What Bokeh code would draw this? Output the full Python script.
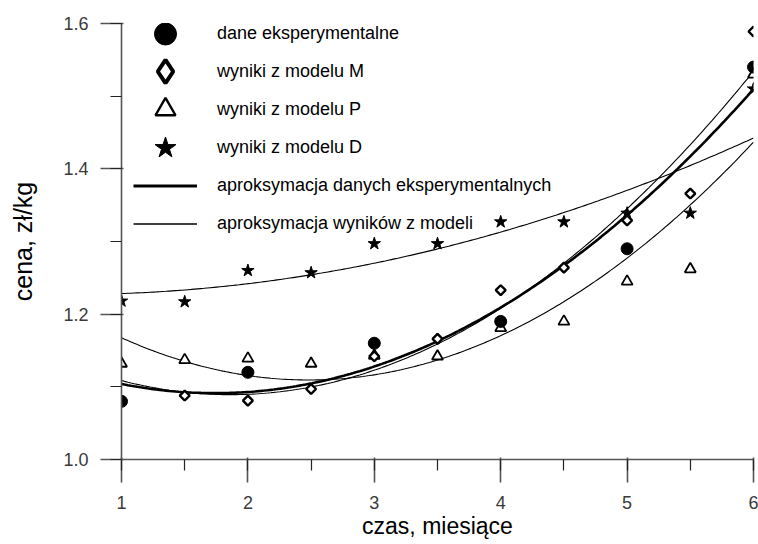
import numpy as np
from bokeh.plotting import figure
from bokeh.models import (Range1d, SingleIntervalTicker, PrintfTickFormatter,
                          Legend, LegendItem)
from bokeh.embed import file_html
from bokeh.resources import INLINE

# ---- data ----
x_exp = [1, 2, 3, 4, 5, 6]
y_exp = [1.08, 1.12, 1.16, 1.19, 1.29, 1.54]

x_m = [1.5, 2, 2.5, 3, 3.5, 4, 4.5, 5, 5.5, 6]
y_m = [1.088, 1.081, 1.097, 1.142, 1.166, 1.233, 1.264, 1.329, 1.366, 1.589]

x_pd = [1, 1.5, 2, 2.5, 3, 3.5, 4, 4.5, 5, 5.5, 6]
y_p = [1.132, 1.137, 1.139, 1.132, 1.143, 1.142, 1.181, 1.19, 1.245, 1.262, 1.53]
y_d = [1.218, 1.217, 1.26, 1.257, 1.297, 1.297, 1.327, 1.327, 1.339, 1.339, 1.51]

labels = ["dane eksperymentalne", "wyniki z modelu M", "wyniki z modelu P",
          "wyniki z modelu D", "aproksymacja danych eksperymentalnych",
          "aproksymacja wyników z modeli"]

x_title = "czas, miesiące"
y_title = "cena, zł/kg"

# quadratic approximations (least squares) of each series
xs = np.linspace(1, 6, 200)
fit_exp = np.polyval(np.polyfit(x_exp, y_exp, 2), xs)
fit_m = np.polyval(np.polyfit(x_m, y_m, 2), xs)
fit_p = np.polyval(np.polyfit(x_pd, y_p, 2), xs)
fit_d = np.polyval(np.polyfit(x_pd, y_d, 2), xs)

p = figure(width=758, height=544, output_backend="svg", toolbar_location=None,
           x_range=Range1d(1, 6), y_range=Range1d(1.0, 1.6),
           min_border_left=121, min_border_right=5, min_border_top=23,
           min_border_bottom=85)
p.outline_line_color = None
p.xgrid.visible = False
p.ygrid.visible = False
p.background_fill_color = "white"
p.border_fill_color = "white"

xa = p.xaxis[0]
ya = p.yaxis[0]
xa.ticker = SingleIntervalTicker(interval=1, num_minor_ticks=2)
ya.ticker = SingleIntervalTicker(interval=0.2, num_minor_ticks=2)
xa.formatter = PrintfTickFormatter(format="%d")
ya.formatter = PrintfTickFormatter(format="%.1f")
for ax in (xa, ya):
    ax.axis_line_color = "#555555"
    ax.axis_line_width = 1.6
    ax.major_tick_line_color = "#555555"
    ax.major_tick_line_width = 1.6
    ax.minor_tick_line_color = "#222222"
    ax.minor_tick_line_width = 1.2
    ax.major_label_text_font = "Liberation Sans"
    ax.major_label_text_font_size = "18px"
    ax.major_label_text_color = "#3a3a3a"
    ax.axis_label_text_font = "Liberation Sans"
    ax.axis_label_text_font_style = "normal"
    ax.axis_label_text_color = "black"
xa.major_tick_out = 23
xa.minor_tick_out = 11
ya.major_tick_out = 21
ya.minor_tick_out = 11
xa.major_label_standoff = 13
ya.major_label_standoff = 12
xa.axis_label = x_title
ya.axis_label = y_title
xa.axis_label_text_font_size = "23px"
ya.axis_label_text_font_size = "25px"
xa.axis_label_standoff = 1
ya.axis_label_standoff = 23

# approximation curves
p.line(xs, fit_d, line_color="black", line_width=1.1)
p.line(xs, fit_p, line_color="black", line_width=1.1)
p.line(xs, fit_m, line_color="black", line_width=1.1)
p.line(xs, fit_exp, line_color="black", line_width=2.6)

# data points
p.scatter(x_pd, y_d, marker="star", size=13, fill_color="black", line_color="black")
p.scatter(x_pd, y_p, marker="triangle", size=11, fill_color="white",
          line_color="black", line_width=1.8)
p.scatter(x_m, y_m, marker="square", angle=np.pi / 4, size=7, fill_color="white",
          line_color="black", line_width=2.4)
p.scatter(x_exp, y_exp, marker="circle", size=12, fill_color="black", line_color="black")

# legend sample glyphs (styled for the legend only; NaN so nothing is drawn in the plot)
nan = [float("nan")]
lg_c = p.scatter(x=nan, y=nan, marker="circle", fill_color="black", line_color="black")
lg_m = p.scatter(x=nan, y=nan, marker="diamond", fill_color="white",
                 line_color="black", line_width=4)
lg_p = p.scatter(x=nan, y=nan, marker="triangle", fill_color="white", line_color="black",
                 line_width=2.4)
lg_d = p.scatter(x=nan, y=nan, marker="star", fill_color="black", line_color="black")
lg_l1 = p.line(x=nan, y=nan, line_color="black", line_width=3.2)
lg_l2 = p.line(x=nan, y=nan, line_color="black", line_width=1.3)

# one legend per row so that the rows can be closer than the glyph box
frame_h = 544 - 23 - 85
pitch = 38
first_center = 10  # px below frame top
rows = list(zip(labels, [lg_c, lg_m, lg_p, lg_d, lg_l1, lg_l2],
                [55, 58, 50, 55, 55, 55]))
for k, (lbl, r, gh) in enumerate(rows):
    center_from_bottom = frame_h - (first_center + k * pitch)
    lg = Legend(items=[LegendItem(label=lbl, renderers=[r])],
                location=(12, center_from_bottom - gh / 2),
                glyph_width=64, glyph_height=gh, label_height=gh,
                label_standoff=20, padding=0, margin=0, spacing=0,
                background_fill_alpha=0, border_line_color=None,
                label_text_font="Liberation Sans", label_text_font_size="18px",
                label_text_color="black")
    p.add_layout(lg, "center")

open("out.html", "w").write(file_html(p, INLINE))
